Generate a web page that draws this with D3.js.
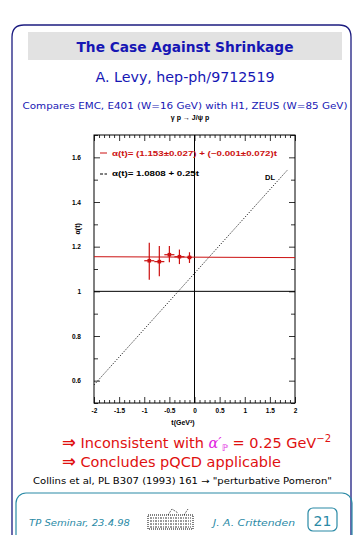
<!DOCTYPE html>
<html>
<head>
<meta charset="utf-8">
<script src="https://cdn.jsdelivr.net/npm/d3@7"></script>
<style>
  body { margin: 0; background: #fff; }
  svg { display: block; }
</style>
</head>
<body>
<div id="chart"></div>
<script>
// data
const tPoints    = [-0.9, -0.7, -0.5, -0.3, -0.1];
const alphaVals  = [1.137, 1.133, 1.164, 1.155, 1.152];
const alphaErrHi = [0.081, 0.070, 0.039, 0.032, 0.023];
const alphaErrLo = [0.085, 0.065, 0.034, 0.033, 0.025];
const tErr       = [0.1, 0.1, 0.1, 0.1, 0.05];

// fitted lines: alpha(t) = a + b t
const fitLine = [1.153, -0.001];
const dlLine  = [1.0808, 0.25];
const fitRange = [-2, 2];
const dlRange  = [-2, 1.85];

const xMajor = [-2, -1.5, -1, -0.5, 0, 0.5, 1, 1.5, 2];
const yMajor = [0.6, 0.8, 1, 1.2, 1.4, 1.6];
const xTicks = d3.range(-20, 21).map(i => i / 10);
const yTicks = d3.range(5, 18).map(i => i / 10);

const W = 363, H = 535;
const BLUE = '#1616b4', RED = '#e01010', PRED = '#cc1111', TEAL = '#2a8aa6';
const slideFont = '"DejaVu Sans", Verdana, sans-serif';
const plotFont = '"Liberation Sans", Arial, sans-serif';

const svg = d3.select('#chart').append('svg')
    .attr('width', W).attr('height', H);

// outer frame
svg.append('path')
    .attr('d', 'M12,545 L12,37 Q12,25 24,25 L339,25 Q351,25 351,37 L351,545')
    .attr('fill', 'none').attr('stroke', '#1c1c80').attr('stroke-width', 1.3);

// title box
svg.append('rect').attr('x', 28).attr('y', 32).attr('width', 314).attr('height', 28)
    .attr('fill', '#e2e2e2');
svg.append('text').attr('x', 185).attr('y', 52).attr('text-anchor', 'middle')
    .attr('font-family', slideFont).attr('font-weight', 'bold').attr('font-size', 14)
    .attr('fill', BLUE).attr('textLength', 217).attr('lengthAdjust', 'spacingAndGlyphs')
    .text('The Case Against Shrinkage');

svg.append('text').attr('x', 185).attr('y', 82).attr('text-anchor', 'middle')
    .attr('font-family', slideFont).attr('font-size', 14)
    .attr('fill', BLUE).attr('textLength', 179).attr('lengthAdjust', 'spacingAndGlyphs')
    .text('A. Levy, hep-ph/9712519');

svg.append('text').attr('x', 185).attr('y', 109).attr('text-anchor', 'middle')
    .attr('font-family', slideFont).attr('font-size', 9.5)
    .attr('fill', BLUE).attr('textLength', 325).attr('lengthAdjust', 'spacingAndGlyphs')
    .text('Compares EMC, E401 (W=16 GeV) with H1, ZEUS (W=85 GeV)');

svg.append('text').attr('x', 190).attr('y', 120).attr('text-anchor', 'middle')
    .attr('font-family', plotFont).attr('font-weight', 'bold').attr('font-size', 7)
    .attr('fill', '#000')
    .text('γ p → J/ψ p');

// plot
const x = d3.scaleLinear().domain([-2, 2]).range([94, 295]);
const y = d3.scaleLinear().domain([0.5, 1.7]).range([403, 135]);
const isMajor = (v, list) => list.some(m => Math.abs(m - v) < 1e-6);
const fmt = v => String(+v.toFixed(1));

const plot = svg.append('g');

function styleAxis(g) {
    g.select('.domain').remove();
    g.selectAll('line').attr('stroke', '#000').attr('stroke-width', 0.8);
    g.selectAll('text').attr('font-family', plotFont).attr('font-weight', 'bold')
        .attr('font-size', 6.5).attr('fill', '#000');
}

const axBottom = plot.append('g').attr('transform', `translate(0,${y(0.5)})`)
    .call(d3.axisBottom(x).tickValues(xTicks).tickSize(-3).tickPadding(5)
        .tickFormat(d => isMajor(d, xMajor) ? fmt(d) : ''));
axBottom.selectAll('.tick').filter(d => isMajor(d, xMajor)).select('line').attr('y2', -6);
styleAxis(axBottom);

const axTop = plot.append('g').attr('transform', `translate(0,${y(1.7)})`)
    .call(d3.axisTop(x).tickValues(xTicks).tickSize(-3).tickFormat(''));
axTop.selectAll('.tick').filter(d => isMajor(d, xMajor)).select('line').attr('y2', 6);
styleAxis(axTop);

const axLeft = plot.append('g').attr('transform', `translate(${x(-2)},0)`)
    .call(d3.axisLeft(y).tickValues(yTicks).tickSize(-4).tickPadding(13)
        .tickFormat(d => isMajor(d, yMajor) ? fmt(d) : ''));
axLeft.selectAll('.tick').filter(d => isMajor(d, yMajor)).select('line').attr('x2', 6);
styleAxis(axLeft);

const axRight = plot.append('g').attr('transform', `translate(${x(2)},0)`)
    .call(d3.axisRight(y).tickValues(yTicks).tickSize(-4).tickFormat(''));
axRight.selectAll('.tick').filter(d => isMajor(d, yMajor)).select('line').attr('x2', -6);
styleAxis(axRight);

plot.append('rect')
    .attr('x', x(-2)).attr('y', y(1.7))
    .attr('width', x(2) - x(-2)).attr('height', y(0.5) - y(1.7))
    .attr('fill', 'none').attr('stroke', '#000').attr('stroke-width', 1);

// zero lines
plot.append('line').attr('x1', x(0)).attr('x2', x(0)).attr('y1', y(1.7)).attr('y2', y(0.5))
    .attr('stroke', '#000').attr('stroke-width', 1);
plot.append('line').attr('x1', x(-2)).attr('x2', x(2)).attr('y1', y(1)).attr('y2', y(1))
    .attr('stroke', '#000').attr('stroke-width', 1);

// DL line (dotted)
const line = d3.line().x(d => x(d[0])).y(d => y(d[1]));
plot.append('path')
    .attr('d', line(dlRange.map(t => [t, dlLine[0] + dlLine[1] * t])))
    .attr('fill', 'none').attr('stroke', '#000').attr('stroke-width', 1)
    .attr('stroke-dasharray', '1,1.6');

// fit line
plot.append('path')
    .attr('d', line(fitRange.map(t => [t, fitLine[0] + fitLine[1] * t])))
    .attr('fill', 'none').attr('stroke', PRED).attr('stroke-width', 1);

// data points with error bars
const pts = tPoints.map((t, i) => ({t, a: alphaVals[i], hi: alphaErrHi[i], lo: alphaErrLo[i], dt: tErr[i]}));
const pg = plot.append('g').selectAll('g').data(pts).enter().append('g');
pg.append('line')
    .attr('x1', d => x(d.t)).attr('x2', d => x(d.t))
    .attr('y1', d => y(d.a + d.hi)).attr('y2', d => y(d.a - d.lo))
    .attr('stroke', PRED).attr('stroke-width', 1.2);
pg.append('line')
    .attr('x1', d => x(d.t - d.dt)).attr('x2', d => x(d.t + d.dt))
    .attr('y1', d => y(d.a)).attr('y2', d => y(d.a))
    .attr('stroke', PRED).attr('stroke-width', 1.2);
pg.append('rect')
    .attr('x', d => x(d.t) - 1.8).attr('y', d => y(d.a) - 1.8)
    .attr('width', 3.6).attr('height', 3.6).attr('fill', PRED);

// legend
plot.append('line').attr('x1', 100).attr('x2', 107).attr('y1', 153).attr('y2', 153)
    .attr('stroke', PRED).attr('stroke-width', 1);
plot.append('text').attr('x', 112).attr('y', 155.5)
    .attr('font-family', plotFont).attr('font-weight', 'bold').attr('font-size', 7)
    .attr('fill', PRED).attr('textLength', 165).attr('lengthAdjust', 'spacingAndGlyphs')
    .text('α(t)= (1.153±0.027) + (−0.001±0.072)t');
plot.append('line').attr('x1', 100).attr('x2', 107).attr('y1', 174).attr('y2', 174)
    .attr('stroke', '#000').attr('stroke-width', 1).attr('stroke-dasharray', '3,1.5');
plot.append('text').attr('x', 112).attr('y', 176)
    .attr('font-family', plotFont).attr('font-weight', 'bold').attr('font-size', 7)
    .attr('fill', '#000').attr('textLength', 87).attr('lengthAdjust', 'spacingAndGlyphs')
    .text('α(t)= 1.0808 + 0.25t');
plot.append('text').attr('x', 265).attr('y', 180)
    .attr('font-family', plotFont).attr('font-weight', 'bold').attr('font-size', 7.5)
    .attr('fill', '#000').text('DL');

// axis titles
plot.append('text').attr('transform', `translate(80,${y(1.28)}) rotate(-90)`)
    .attr('text-anchor', 'middle')
    .attr('font-family', plotFont).attr('font-weight', 'bold').attr('font-size', 7)
    .text('α(t)');
plot.append('text').attr('x', 183).attr('y', 425).attr('text-anchor', 'middle')
    .attr('font-family', plotFont).attr('font-weight', 'bold').attr('font-size', 7)
    .text('t(GeV²)');

// conclusions
const c1 = svg.append('text').attr('x', 62).attr('y', 448)
    .attr('font-family', slideFont).attr('font-size', 14.5).attr('fill', RED);
c1.append('tspan').attr('font-size', 16.5).attr('font-weight', 'bold').text('⇒');
c1.append('tspan').text(' Inconsistent with ');
c1.append('tspan').attr('fill', '#e020e0').attr('font-style', 'italic').attr('font-family', '"DejaVu Serif", serif').text('α′');
c1.append('tspan').attr('fill', '#e020e0').attr('font-size', 9).attr('dy', 3).text('ℙ');
c1.append('tspan').attr('dy', -3).text(' = 0.25 GeV');
c1.append('tspan').attr('font-size', 10).attr('dy', -6).text('−2');

const c2 = svg.append('text').attr('x', 62).attr('y', 467)
    .attr('font-family', slideFont).attr('font-size', 14.5).attr('fill', RED);
c2.append('tspan').attr('font-size', 16.5).attr('font-weight', 'bold').text('⇒');
c2.append('tspan').text(' Concludes pQCD applicable');

svg.append('text').attr('x', 33).attr('y', 484)
    .attr('font-family', slideFont).attr('font-size', 9)
    .attr('fill', '#000').attr('textLength', 299).attr('lengthAdjust', 'spacingAndGlyphs')
    .text('Collins et al, PL B307 (1993) 161 → "perturbative Pomeron"');

// footer
svg.append('rect').attr('x', 16).attr('y', 493).attr('width', 336).attr('height', 60).attr('rx', 10)
    .attr('fill', 'none').attr('stroke', TEAL).attr('stroke-width', 1.2);
svg.append('text').attr('x', 29).attr('y', 526)
    .attr('font-family', slideFont).attr('font-style', 'italic').attr('font-size', 9.5)
    .attr('fill', TEAL).attr('textLength', 101).attr('lengthAdjust', 'spacingAndGlyphs')
    .text('TP Seminar, 23.4.98');
svg.append('text').attr('x', 213).attr('y', 526)
    .attr('font-family', slideFont).attr('font-style', 'italic').attr('font-size', 9.5)
    .attr('fill', TEAL).attr('textLength', 82).attr('lengthAdjust', 'spacingAndGlyphs')
    .text('J. A. Crittenden');
svg.append('rect').attr('x', 308).attr('y', 508).attr('width', 29).attr('height', 23).attr('rx', 5)
    .attr('fill', 'none').attr('stroke', TEAL).attr('stroke-width', 1.2);
svg.append('text').attr('x', 322.5).attr('y', 526).attr('text-anchor', 'middle')
    .attr('font-family', slideFont).attr('font-size', 14).attr('fill', TEAL).text('21');

// small logo
const logo = svg.append('g').attr('transform', 'translate(148,508)');
logo.append('rect').attr('x', 0).attr('y', 7).attr('width', 45).attr('height', 14)
    .attr('fill', 'none').attr('stroke', '#000').attr('stroke-width', 1).attr('stroke-dasharray', '1,1');
[10, 13, 16, 19].forEach(yy => logo.append('line').attr('x1', 2).attr('x2', 43)
    .attr('y1', yy).attr('y2', yy).attr('stroke', '#000').attr('stroke-width', 0.8)
    .attr('stroke-dasharray', '2,1,1,1'));
logo.append('path').attr('d', 'M20,7 L24,1 L30,5 M36,7 L40,1')
    .attr('fill', 'none').attr('stroke', '#000').attr('stroke-width', 0.8).attr('stroke-dasharray', '1,1');
</script>
</body>
</html>
